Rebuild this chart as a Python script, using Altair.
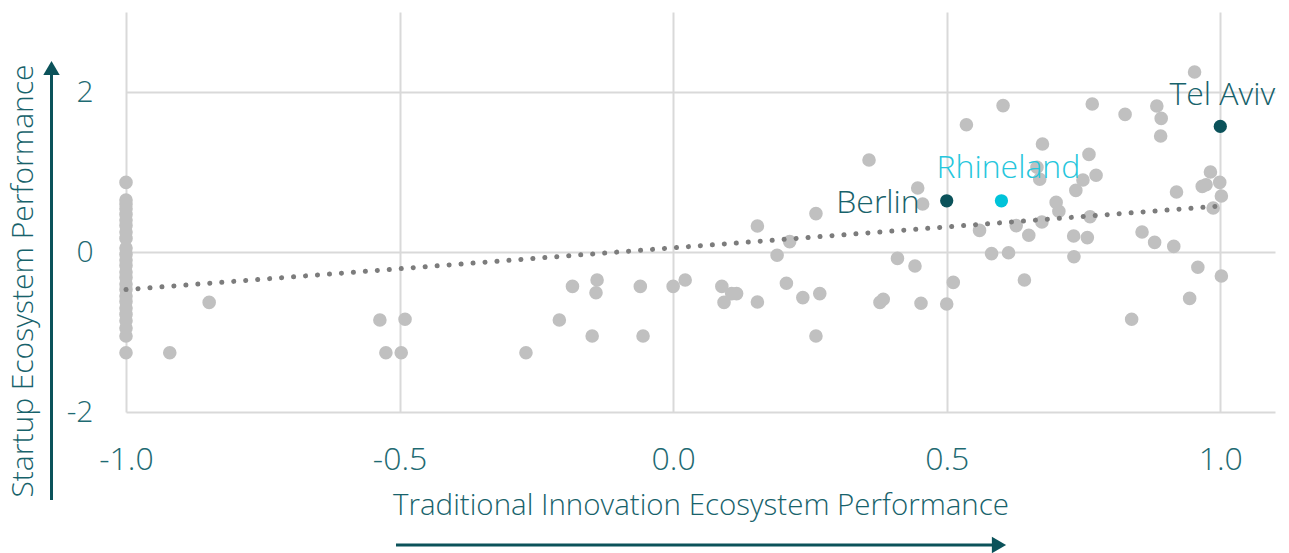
import altair as alt
import pandas as pd

# ---- data ----
left_y = [0.87, 0.65, 0.6, 0.54, 0.47, 0.4, 0.33, 0.25, 0.17, 0.05, -0.03, -0.1,
          -0.17, -0.25, -0.32, -0.4, -0.47, -0.55, -0.62, -0.7, -0.78, -0.86,
          -0.95, -1.05, -1.26]
other_x = [-0.92, -0.848, -0.536, -0.525, -0.497, -0.49, -0.269, -0.208, -0.184,
           -0.148, -0.141, -0.139, -0.06, -0.055, 0.0, 0.022, 0.089, 0.093, 0.107,
           0.116, 0.154, 0.154, 0.19, 0.207, 0.213, 0.237, 0.261, 0.268, 0.261,
           0.378, 0.384, 0.41, 0.442, 0.453, 0.603, 0.536, 0.358, 0.447, 0.456,
           0.56, 0.582, 0.613, 0.512, 0.50, 0.953, 0.766, 0.826, 0.884, 0.892,
           0.891, 0.675, 0.76, 0.665, 0.67, 0.749, 0.773, 0.736, 0.982, 0.967,
           0.974, 0.999, 1.002, 0.92, 0.987, 0.70, 0.705, 0.627, 0.65, 0.674,
           0.762, 0.732, 0.757, 0.857, 0.88, 0.915, 0.7325, 0.959, 1.002, 0.642,
           0.944, 0.838]
other_y = [-1.26, -0.63, -0.85, -1.26, -1.26, -0.84, -1.26, -0.85, -0.43,
           -1.05, -0.51, -0.35, -0.43, -1.05, -0.43, -0.35, -0.43, -0.63, -0.52,
           -0.52, -0.625, 0.325, -0.04, -0.39, 0.13, -0.57, 0.48, -0.52, -1.05,
           -0.63, -0.59, -0.08, -0.175, -0.64, 1.83, 1.59, 1.15, 0.80, 0.60,
           0.27, -0.02, -0.01, -0.38, -0.65, 2.25, 1.85, 1.72, 1.825, 1.67,
           1.45, 1.35, 1.22, 1.06, 0.91, 0.9, 0.96, 0.77, 1.0, 0.82,
           0.84, 0.87, 0.70, 0.75, 0.55, 0.62, 0.51, 0.33, 0.21, 0.375,
           0.44, 0.20, 0.18, 0.25, 0.12, 0.07, -0.06, -0.19, -0.30, -0.35,
           -0.58, -0.84]
hl_names = ["Berlin", "Rhineland", "Tel Aviv"]
hl_x = [0.5, 0.6, 1.0]
hl_y = [0.64, 0.64, 1.57]
trend_x = [-1.0, 1.0]
trend_y = [-0.47, 0.575]
x_ticks = [-1.0, -0.5, 0.0, 0.5, 1.0]
y_ticks = [-2, 0, 2]
x_title = "Traditional Innovation Ecosystem Performance"
y_title = "Startup Ecosystem Performance"

FONT = "Open Sans"
TEAL = "#0b525a"
TEXT_TEAL = "#17626b"
CYAN = "#00c3d9"

grey = pd.DataFrame({"x": [-1.0] * len(left_y) + other_x, "y": left_y + other_y})
hl = pd.DataFrame({"name": hl_names, "x": hl_x, "y": hl_y})
trend = pd.DataFrame({"x": trend_x, "y": trend_y})

xs = alt.Scale(domain=[-1, 1.1], nice=False, zero=False)
ys = alt.Scale(domain=[-2, 3], nice=False, zero=False)
X = alt.X("x:Q", scale=xs, axis=alt.Axis(
    values=x_ticks, title=None, grid=True, labelFlush=False,
    labelExpr="replace(format(datum.value, '.1f'), '\u2212', '-')",
    labelFontSize=32, labelPadding=32))
Y = alt.Y("y:Q", scale=ys, axis=alt.Axis(
    values=y_ticks, title=None, grid=True, labelFlush=False,
    labelExpr="replace(format(datum.value, 'd'), '\u2212', '-')",
    labelFontSize=30, labelPadding=33))

pts = alt.Chart(grey).mark_circle(size=185, color="#c0c0c0", opacity=1).encode(x=X, y=Y)

line = alt.Chart(trend).mark_line(color="#7c7c7c", strokeWidth=5, strokeCap="round",
                                  strokeDash=[0.1, 11.9]).encode(x=X, y=Y)

hl_pts = alt.Chart(hl).mark_circle(size=175, opacity=1).encode(
    x=X, y=Y,
    color=alt.Color("name:N", scale=alt.Scale(domain=hl_names, range=[TEAL, CYAN, TEAL]), legend=None))

def label(name, color, align, dx, dy):
    return alt.Chart(hl).transform_filter(alt.datum.name == name).mark_text(
        font=FONT, fontSize=32, fontWeight=300, color=color, align=align,
        baseline="alphabetic", dx=dx, dy=dy).encode(x=X, y=Y, text="name:N")

lab_b = label("Berlin", TEXT_TEAL, "right", -27, 12)
lab_r = label("Rhineland", "#26c6dc", "center", 7, -23)
lab_t = label("Tel Aviv", TEXT_TEAL, "center", 2, -21)

one = pd.DataFrame({"a": [0]})

ytitle = alt.Chart(one).mark_text(font=FONT, fontSize=30, fontWeight=300, color=TEXT_TEAL,
                                  angle=270, align="center", baseline="middle").encode(
    x=alt.value(-102), y=alt.value(269), text=alt.value(y_title))
xtitle = alt.Chart(one).mark_text(font=FONT, fontSize=29.5, fontWeight=300, color=TEXT_TEAL,
                                  align="center", baseline="middle").encode(
    x=alt.value(575), y=alt.value(494), text=alt.value(x_title))

yshaft = alt.Chart(one).mark_rule(color=TEAL, strokeWidth=3).encode(
    x=alt.value(-74.5), y=alt.value(488), y2=alt.value(62))
yhead = alt.Chart(one).mark_point(shape="triangle-up", size=270, filled=True, color=TEAL,
                                  opacity=1, strokeWidth=0).encode(
    x=alt.value(-74.5), y=alt.value(56))
xshaft = alt.Chart(one).mark_rule(color=TEAL, strokeWidth=3).encode(
    x=alt.value(270), x2=alt.value(868), y=alt.value(533))
xhead = alt.Chart(one).mark_point(shape="triangle-right", size=270, filled=True, color=TEAL,
                                  opacity=1, strokeWidth=0).encode(
    x=alt.value(873), y=alt.value(533))

chart = alt.layer(
    pts, line, hl_pts, lab_b, lab_r, lab_t, ytitle, xtitle, yshaft, yhead, xshaft, xhead
).properties(
    width=1149, height=400,
    padding={"left": 118, "top": 4, "right": 6, "bottom": 141},
    autosize=alt.AutoSizeParams(type="none"),
).configure_view(stroke=None).configure_axis(
    gridColor="#d9d9d9", gridWidth=2, domain=False, ticks=False,
    labelFont=FONT, labelFontWeight=300, labelColor="#1e6a72",
)

chart.save("out.html", embed_options={"renderer": "svg", "actions": False})
